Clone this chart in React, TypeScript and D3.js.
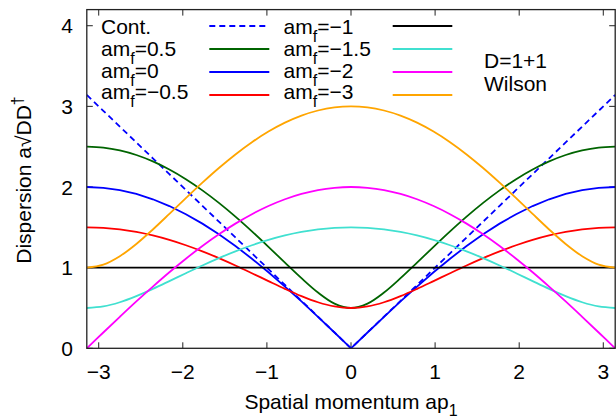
import React from 'react';
import * as d3 from 'd3';

// Spatial momentum ap1 sample points
const momenta = [
  -3.1416, -2.9452, -2.7489, -2.5525, -2.3562, -2.1598, -1.9635, -1.7671, -1.5708,
  -1.3744, -1.1781, -0.9817, -0.7854, -0.589, -0.3927, -0.1963, 0,
  0.1963, 0.3927, 0.589, 0.7854, 0.9817, 1.1781, 1.3744, 1.5708,
  1.7671, 1.9635, 2.1598, 2.3562, 2.5525, 2.7489, 2.9452, 3.1416,
];

const contValues = [
  3.1416, 2.9452, 2.7489, 2.5525, 2.3562, 2.1598, 1.9635, 1.7671, 1.5708,
  1.3744, 1.1781, 0.9817, 0.7854, 0.589, 0.3927, 0.1963, 0,
  0.1963, 0.3927, 0.589, 0.7854, 0.9817, 1.1781, 1.3744, 1.5708,
  1.7671, 1.9635, 2.1598, 2.3562, 2.5525, 2.7489, 2.9452, 3.1416,
];

const mPlus05 = [
  2.5, 2.4885, 2.4539, 2.3968, 2.3176, 2.2174, 2.0972, 1.9584, 1.8028,
  1.6324, 1.4498, 1.2583, 1.0624, 0.8693, 0.6916, 0.5547, 0.5,
  0.5547, 0.6916, 0.8693, 1.0624, 1.2583, 1.4498, 1.6324, 1.8028,
  1.9584, 2.0972, 2.2174, 2.3176, 2.3968, 2.4539, 2.4885, 2.5,
];

const mZero = [
  2, 1.99, 1.962, 1.914, 1.848, 1.764, 1.663, 1.546, 1.414,
  1.269, 1.111, 0.943, 0.765, 0.581, 0.39, 0.196, 0,
  0.196, 0.39, 0.581, 0.765, 0.943, 1.111, 1.269, 1.414,
  1.546, 1.663, 1.764, 1.848, 1.914, 1.962, 1.99, 2,
];

const mMinus05 = [
  1.5, 1.4936, 1.4744, 1.4427, 1.399, 1.3437, 1.2778, 1.2021, 1.118,
  1.0271, 0.9313, 0.8333, 0.7368, 0.6469, 0.5711, 0.5189, 0.5,
  0.5189, 0.5711, 0.6469, 0.7368, 0.8333, 0.9313, 1.0271, 1.118,
  1.2021, 1.2778, 1.3437, 1.399, 1.4427, 1.4744, 1.4936, 1.5,
];

const mMinus1 = [
  1, 1, 1, 1, 1, 1, 1, 1, 1,
  1, 1, 1, 1, 1, 1, 1, 1,
  1, 1, 1, 1, 1, 1, 1, 1,
  1, 1, 1, 1, 1, 1, 1, 1,
];

const mMinus15 = [
  0.5, 0.5189, 0.5711, 0.6469, 0.7368, 0.8333, 0.9313, 1.0271, 1.118,
  1.2021, 1.2778, 1.3437, 1.399, 1.4427, 1.4744, 1.4936, 1.5,
  1.4936, 1.4744, 1.4427, 1.399, 1.3437, 1.2778, 1.2021, 1.118,
  1.0271, 0.9313, 0.8333, 0.7368, 0.6469, 0.5711, 0.5189, 0.5,
];

const mMinus2 = [
  0, 0.196, 0.39, 0.581, 0.765, 0.943, 1.111, 1.269, 1.414,
  1.546, 1.663, 1.764, 1.848, 1.914, 1.962, 1.99, 2,
  1.99, 1.962, 1.914, 1.848, 1.764, 1.663, 1.546, 1.414,
  1.269, 1.111, 0.943, 0.765, 0.581, 0.39, 0.196, 0,
];

const mMinus3 = [
  1, 1.0377, 1.1421, 1.2939, 1.4736, 1.6667, 1.8626, 2.0542, 2.2361,
  2.4042, 2.5555, 2.6874, 2.7979, 2.8855, 2.9488, 2.9872, 3,
  2.9872, 2.9488, 2.8855, 2.7979, 2.6874, 2.5555, 2.4042, 2.2361,
  2.0542, 1.8626, 1.6667, 1.4736, 1.2939, 1.1421, 1.0377, 1,
];

const xTicks = [-3, -2, -1, 0, 1, 2, 3];
const yTicks = [0, 1, 2, 3, 4];

type Series = {
  mass: string | null;
  values: number[];
  color: string;
  dash?: string;
  linear?: boolean;
};

const seriesList: Series[] = [
  { mass: null, values: contValues, color: '#0000ff', dash: '6,4', linear: true },
  { mass: '0.5', values: mPlus05, color: '#006400' },
  { mass: '0', values: mZero, color: '#0000ff', linear: true },
  { mass: '\u22120.5', values: mMinus05, color: '#ff0000' },
  { mass: '\u22121', values: mMinus1, color: '#000000' },
  { mass: '\u22121.5', values: mMinus15, color: '#40e0d0' },
  { mass: '\u22122', values: mMinus2, color: '#ff00ff' },
  { mass: '\u22123', values: mMinus3, color: '#ffa500' },
];

const W = 616;
const H = 418;
const X0 = 86.8;
const X1 = 615.2;
const Y0 = 348.3;
const Y1 = 9.6;
const FONT = "'Liberation Sans', Arial, Helvetica, sans-serif";

export default function App() {
  const x = d3.scaleLinear().domain([-Math.PI, Math.PI]).range([X0, X1]);
  const y = d3.scaleLinear().domain([0, 4.2]).range([Y0, Y1]);
  const fmt = (v: number) => (v < 0 ? '\u2212' + Math.abs(v) : String(v));

  const makePath = (s: Series) => {
    const gen = d3
      .line<number>()
      .x((_, i) => x(momenta[i]))
      .y((v) => y(v))
      .curve(s.linear ? d3.curveLinear : d3.curveCatmullRom.alpha(0.5));
    return gen(s.values) || '';
  };

  const tickLen = 6;
  const rowText = (i: number) => 34 + i * 21.8;
  const rowLine = (i: number) => 26 + i * 23;

  return (
    <svg
      width={W}
      height={H}
      style={{ position: 'absolute', left: 0, top: 0, background: '#fff' }}
      fontFamily={FONT}
    >
      <defs>
        <clipPath id="plotClip">
          <rect x={X0} y={Y1} width={X1 - X0} height={Y0 - Y1} />
        </clipPath>
      </defs>

      {/* ticks */}
      <g stroke="#222" strokeWidth={1}>
        {xTicks.map((t) => (
          <g key={'xt' + t}>
            <line x1={x(t)} x2={x(t)} y1={Y0} y2={Y0 - tickLen} />
            <line x1={x(t)} x2={x(t)} y1={Y1} y2={Y1 + tickLen} />
          </g>
        ))}
        {yTicks.map((t) => (
          <g key={'yt' + t}>
            <line x1={X0} x2={X0 + tickLen} y1={y(t)} y2={y(t)} />
            <line x1={X1} x2={X1 - tickLen} y1={y(t)} y2={y(t)} />
          </g>
        ))}
      </g>

      {/* curves */}
      <g clipPath="url(#plotClip)" fill="none">
        {seriesList.map((s, i) => (
          <path
            key={'s' + i}
            d={makePath(s)}
            stroke={s.color}
            strokeWidth={1.8}
            strokeDasharray={s.dash}
          />
        ))}
      </g>

      {/* frame */}
      <rect
        x={X0}
        y={Y1}
        width={X1 - X0}
        height={Y0 - Y1}
        fill="none"
        stroke="#222"
        strokeWidth={1.3}
      />

      {/* tick labels */}
      <g fontSize={21} fill="#000">
        {xTicks.map((t) => (
          <text key={'xl' + t} x={x(t)} y={379} textAnchor="middle">
            {fmt(t)}
          </text>
        ))}
        {yTicks.map((t) => (
          <text key={'yl' + t} x={73} y={y(t) + 7.5} textAnchor="end">
            {fmt(t)}
          </text>
        ))}
      </g>

      {/* axis labels */}
      <text x={351} y={409} textAnchor="middle" fontSize={21}>
        Spatial momentum ap
        <tspan fontSize={16} dy={7}>
          1
        </tspan>
      </text>
      <text
        transform="translate(31,180) rotate(-90)"
        textAnchor="middle"
        fontSize={21}
      >
        Dispersion a√DD
        <tspan fontSize={16} dy={-8}>
          †
        </tspan>
      </text>

      {/* legend */}
      <g fontSize={21}>
        {seriesList.map((s, i) => {
          const col = i < 4 ? 0 : 1;
          const row = i % 4;
          const tx = col === 0 ? 101 : 283.5;
          const lx0 = col === 0 ? 209.3 : 392.7;
          const lx1 = col === 0 ? 269.3 : 452.3;
          return (
            <g key={'lg' + i}>
              <text x={tx} y={rowText(row)}>
                {s.mass === null ? (
                  'Cont.'
                ) : (
                  <>
                    am
                    <tspan fontSize={16} dy={8}>
                      f
                    </tspan>
                    <tspan dy={-8}>={s.mass}</tspan>
                  </>
                )}
              </text>
              <line
                x1={lx0}
                x2={lx1}
                y1={rowLine(row)}
                y2={rowLine(row)}
                stroke={s.color}
                strokeWidth={1.8}
                strokeDasharray={s.dash}
              />
            </g>
          );
        })}
        <text x={484} y={68.3}>
          D=1+1
        </text>
        <text x={484} y={90.7}>
          Wilson
        </text>
      </g>
    </svg>
  );
}
